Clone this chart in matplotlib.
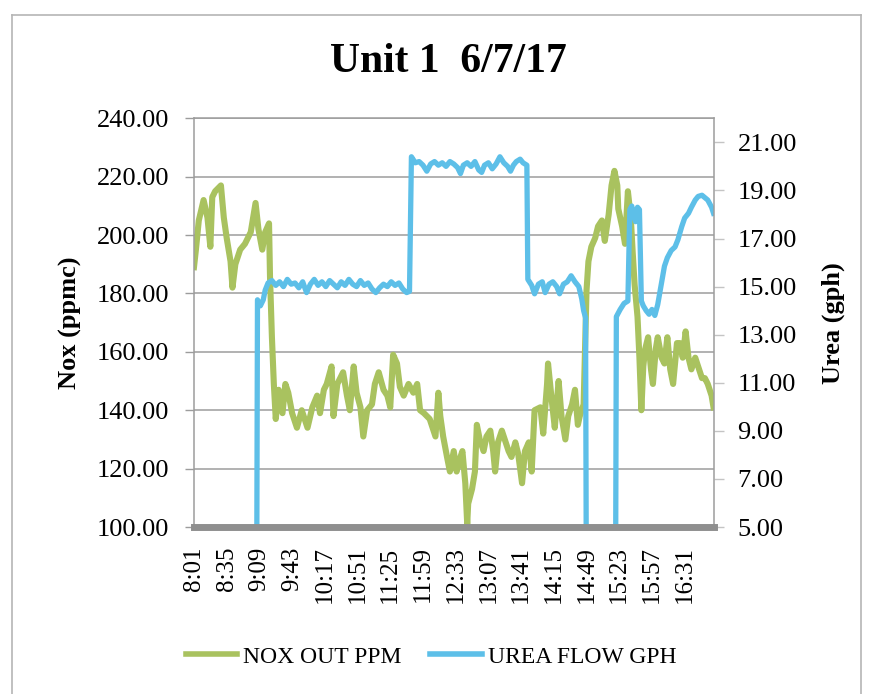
# %% -----------------------------------------------------------------------------------------------
# Import modules

import numpy as np
import matplotlib
matplotlib.use('Agg')
from matplotlib import pyplot as plt
from matplotlib.lines import Line2D

# %% -----------------------------------------------------------------------------------------------
# Data (minutes after 8:01)

# NOX out (ppm), left axis
nox_min = [0, 2, 5, 10, 14, 17, 19, 22, 28, 31,
           34, 38, 40, 43, 48, 53, 59, 64, 67, 71,
           74, 78, 79, 81, 83, 85, 88, 92, 95, 98,
           102, 107, 112, 118, 123, 128, 131, 135, 138, 143,
           145, 149, 152, 155, 159, 162, 166, 169, 173, 176,
           180, 185, 188, 192, 197, 201, 204, 207, 211, 214,
           218, 223, 228, 232, 235, 239, 242, 245, 251, 254,
           256, 259, 263, 266, 270, 273, 277, 279, 282, 284,
           285, 289, 292, 294, 297, 301, 304, 308, 311, 313,
           316, 320, 323, 327, 330, 334, 337, 341, 344, 348,
           351, 354, 360, 363, 367, 368, 372, 375, 379, 382,
           386, 389, 393, 396, 399, 401, 405, 408, 410, 413,
           417, 420, 424, 427, 431, 434, 437, 440, 441, 445,
           448, 451, 454, 456, 458, 461, 463, 465, 467, 469,
           472, 475, 477, 480, 482, 486, 489, 492, 495, 498,
           502, 505, 508, 511, 514, 517, 521, 524, 528, 531,
           534, 538, 540]
nox_ppm = [189, 195, 205, 212, 206, 196, 213, 215, 217, 206,
           199, 191, 182, 190, 195, 197, 201, 211, 202, 195,
           201, 204, 186, 165, 149, 137, 147, 139, 149, 146,
           139, 134, 140, 134, 141, 145, 139, 147, 149, 155,
           138, 149, 151, 153, 145, 140, 155, 146, 141, 131,
           140, 142, 149, 153, 147, 145, 141, 159, 156, 148,
           145, 149, 146, 149, 140, 139, 138, 137, 131, 146,
           138, 131, 124, 119, 126, 119, 124, 126, 115, 101,
           108, 113, 119, 135, 130, 126, 131, 133, 126, 119,
           129, 133, 130, 126, 124, 129, 125, 115, 126, 129,
           119, 140, 141, 132, 149, 156, 143, 134, 150, 138,
           130, 138, 142, 147, 135, 138, 142, 181, 191, 196,
           199, 203, 205, 198, 207, 217, 222, 217, 209, 203,
           197, 215, 206, 194, 183, 172, 158, 140, 155, 161,
           165, 154, 149, 161, 165, 158, 156, 165, 154, 149,
           163, 163, 158, 167, 158, 154, 158, 155, 151, 151,
           149, 145, 141]

# urea flow (gph), right axis (0 = pump off, below the axis)
urea_min = [0, 65, 66, 69, 72, 74, 77,
            81, 85, 89, 93, 97, 101, 105, 109, 113, 117,
            121, 125, 129, 133, 137, 141, 145, 149, 153, 157,
            161, 165, 169, 173, 177, 181, 185, 189, 193, 197,
            201, 205, 209, 213, 217, 221, 224, 226,
            230, 234, 238, 242, 246, 250, 254, 258, 262,
            266, 270, 274, 277, 280, 284, 288, 292, 296, 299,
            302, 306, 310, 314, 318, 322, 326, 329, 332, 335,
            339, 342, 346, 347,
            351, 354, 358, 362, 365, 369, 373, 377, 380, 384,
            388, 392, 396, 400, 403, 405, 407, 408,
            438, 439, 443, 447, 451, 453, 455, 457, 459, 461,
            463, 465, 467, 470, 473, 476, 479, 482, 486, 489,
            492, 496, 500, 503, 507, 510, 514, 517, 521, 524,
            528, 531, 534, 538, 540]
urea_gph = [0, 0, 14.45, 14.2, 14.45, 14.85, 15.15,
            15.25, 15.05, 15.2, 15.0, 15.3, 15.1, 15.15, 14.95, 15.2, 14.75,
            15.1, 15.3, 15.05, 15.2, 15.0, 15.25, 15.1, 14.95, 15.2, 15.05,
            15.3, 15.1, 15.0, 15.25, 15.05, 15.15, 14.9, 14.75, 14.95, 15.1,
            15.0, 15.2, 15.05, 15.15, 14.9, 14.75, 14.8, 20.4,
            20.15, 20.2, 20.05, 19.8, 20.1, 20.2, 20.05, 20.15, 20.0,
            20.2, 20.1, 19.95, 19.7, 20.05, 20.15, 20.0, 20.2, 19.85, 19.75,
            20.05, 20.15, 19.9, 20.1, 20.4, 20.15, 20.0, 19.8, 20.05, 20.2,
            20.3, 20.15, 20.05, 15.3,
            15.05, 14.7, 15.1, 15.2, 14.75, 15.1, 15.2, 15.0, 14.7, 15.1,
            15.2, 15.45, 15.2, 15.0, 14.5, 14.0, 13.7, 0,
            0, 13.75, 14.05, 14.3, 14.4, 18.2, 18.35, 18.0, 17.7, 18.3,
            18.2, 14.4, 14.2, 14.0, 13.85, 14.05, 13.8, 14.25, 15.15, 15.85,
            16.2, 16.5, 16.65, 16.95, 17.5, 17.85, 18.05, 18.3, 18.6, 18.75,
            18.8, 18.7, 18.6, 18.3, 18.05]

tick_min = [0, 34, 68, 102, 136, 170, 204, 238, 272, 306, 340, 374, 408, 442, 476, 510]
tick_labels = ['8:01', '8:35', '9:09', '9:43', '10:17', '10:51', '11:25', '11:59',
               '12:33', '13:07', '13:41', '14:15', '14:49', '15:23', '15:57', '16:31']

nox_ticks = np.arange(100, 241, 20)
urea_ticks = np.arange(5, 22, 2)

# %% -----------------------------------------------------------------------------------------------
# Plot

plt.rcParams['font.family'] = ['Liberation Serif', 'DejaVu Serif']

green = '#a9c25f'
blue = '#5dbfe8'
grid_col = '#9c9c9c'

W, H = 871, 694
fig = plt.figure(figsize=[W/100, H/100], dpi=100)
fig.patch.set_facecolor('white')

# plot area in pixels: left 193.5, right 714, top 118.3, bottom 527
ax = fig.add_axes([193.5/W, 1-527/H, (714-193.5)/W, (527-118.3)/H])
ax2 = ax.twinx()

# NOX on the left axis
ax.plot(nox_min, nox_ppm, color=green, lw=4.4, solid_joinstyle='round')
ax.set_ylim(100, 240)
ax.set_yticks(nox_ticks)
ax.set_yticklabels(['%.2f' % v for v in nox_ticks], fontsize=19)
ax.set_xlim(-0.5, 540.5)
ax.set_xticks(tick_min)
ax.set_xticklabels(tick_labels, rotation=90, fontsize=18)
ax.tick_params(axis='x', length=0, pad=14)
ax.tick_params(axis='y', length=6.5, width=1.0, color=grid_col, pad=11)
ax.yaxis.grid(True, color=grid_col, lw=1.1)
ax.set_axisbelow(True)
ax.spines['left'].set_color(grid_col)
ax.spines['left'].set_linewidth(1.1)
ax.spines['top'].set_color(grid_col)
ax.spines['top'].set_linewidth(1.1)
ax.spines['right'].set_visible(False)
ax.spines['bottom'].set_visible(False)

# urea on the right axis (drawn on top)
ax2.plot(urea_min, urea_gph, color=blue, lw=3.8, solid_joinstyle='round')
ax2.set_ylim(5, 22)
ax2.set_yticks(urea_ticks)
ax2.set_yticklabels(['%.2f' % v for v in urea_ticks], fontsize=19)
ax2.tick_params(axis='y', length=7, width=1.0, color='#c4c4c4', pad=10)
ax2.spines['left'].set_visible(False)
ax2.spines['top'].set_visible(False)
ax2.spines['right'].set_color(grid_col)
ax2.spines['right'].set_linewidth(1.1)
ax2.spines['bottom'].set_color('#8f8f8f')
ax2.spines['bottom'].set_linewidth(5)

# axis titles
ax.set_ylabel('Nox (ppmc)', fontsize=19, fontweight='bold')
ax.yaxis.set_label_coords(-0.214, 0.5)
ax2.set_ylabel('Urea (gph)', fontsize=19, fontweight='bold')
ax2.yaxis.set_label_coords(1.207, 0.5)

# title
fig.text(448/W, 1-62/H, 'Unit 1  6/7/17', fontsize=30, fontweight='bold',
         ha='center', va='center')

# legend
handles = [Line2D([], [], color=green, lw=4), Line2D([], [], color=blue, lw=4)]
fig.legend(handles, ['NOX OUT PPM', 'UREA FLOW GPH'], loc='center',
           bbox_to_anchor=(431/W, 1-657/H), ncol=2, frameon=False, fontsize=17,
           handlelength=2.2, handletextpad=0.25, columnspacing=1.2)

# scanned page frame
frame = dict(color='#b5b5b5', lw=1.2, transform=fig.transFigure)
fig.add_artist(Line2D([11.5/W, 11.5/W], [0, 1-15/H], **frame))
fig.add_artist(Line2D([11.5/W, 861/W], [1-15/H, 1-15/H], **frame))
fig.add_artist(Line2D([861/W, 861/W], [0, 1-15/H], **frame))

fig.savefig('out.png', dpi=100)
